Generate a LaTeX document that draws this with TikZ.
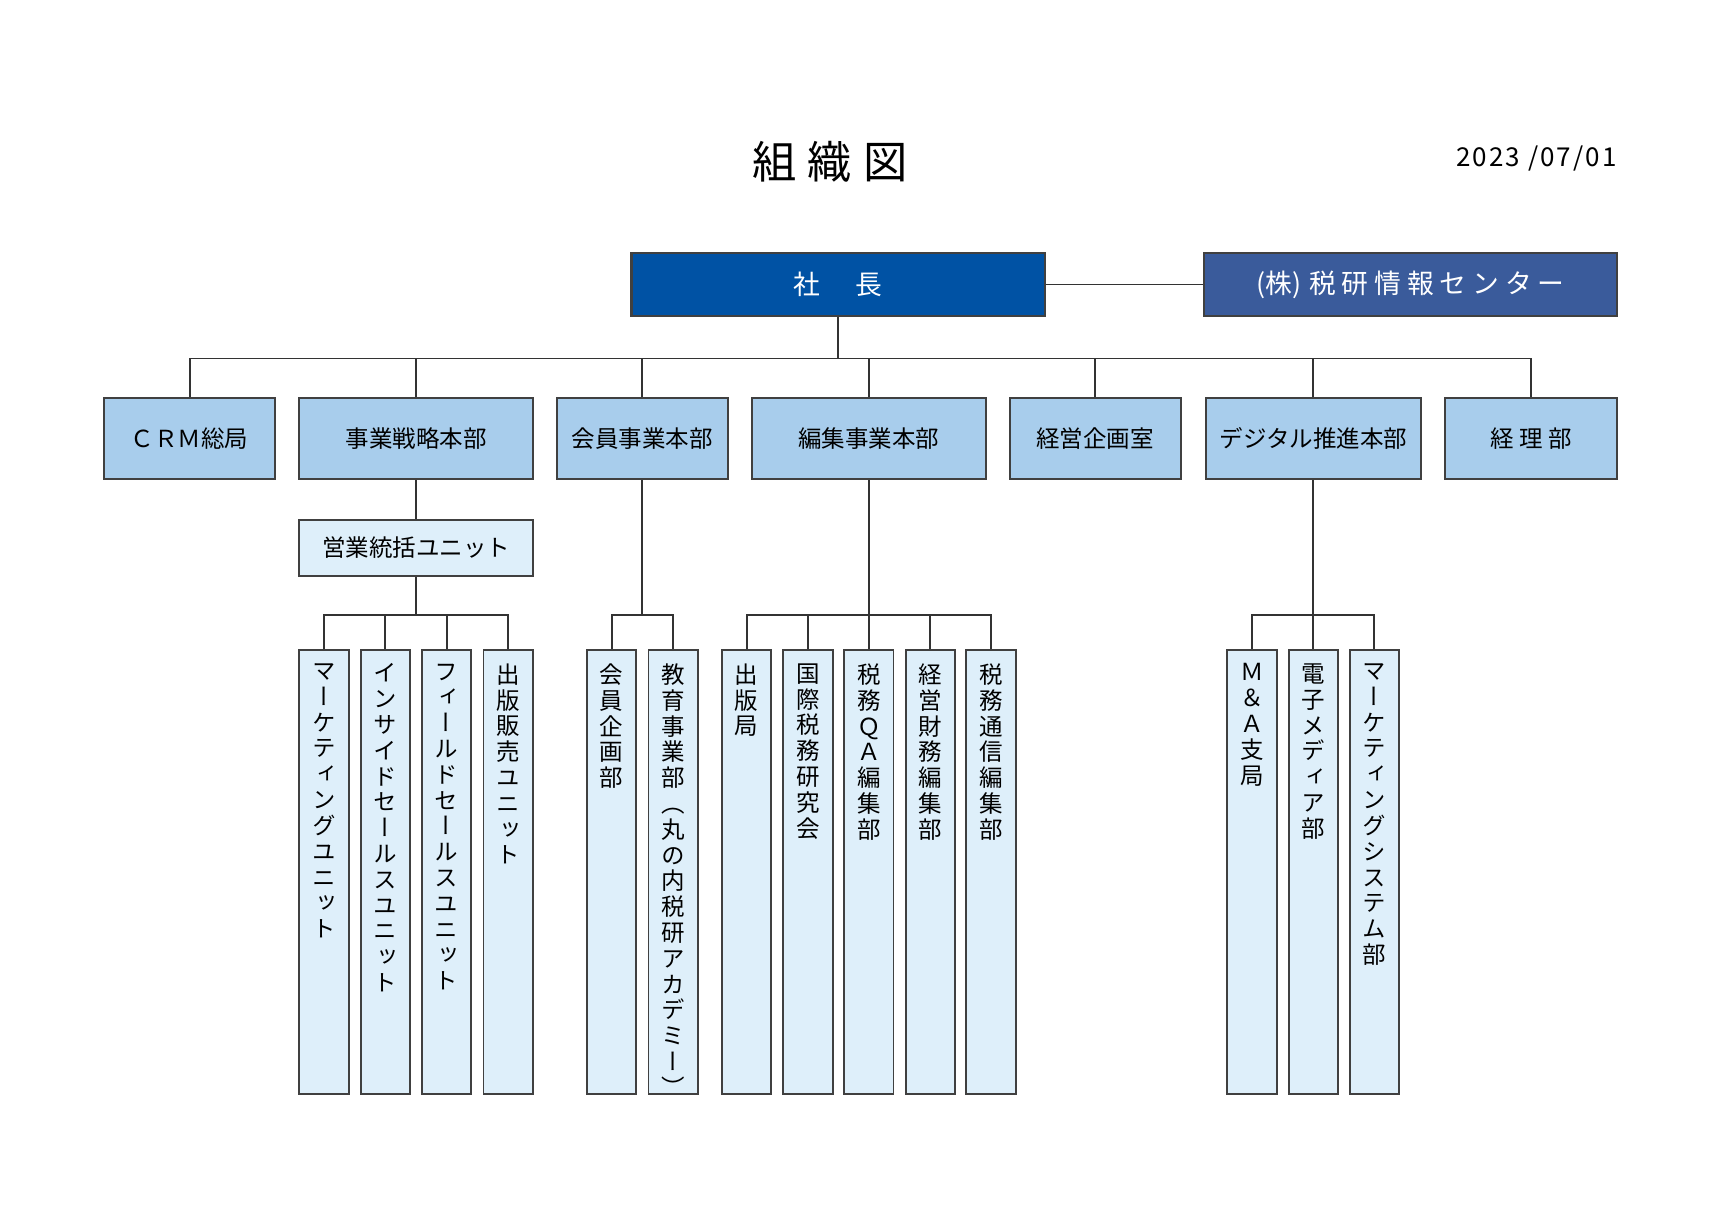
\documentclass[tikz,border=0pt]{standalone}
\usepackage{fontspec}
\setmainfont{Noto Sans CJK JP}
\newfontfamily\vfont[RawFeature=+vert]{Noto Sans CJK JP}
\newfontfamily\wide[LetterSpace=22]{Noto Sans CJK JP}
\newfontfamily\datefont[LetterSpace=8]{Noto Sans CJK JP}

\definecolor{ceoblue}{RGB}{0,82,164}
\definecolor{subblue}{RGB}{58,91,155}
\definecolor{deptblue}{RGB}{168,205,236}
\definecolor{unitblue}{RGB}{222,239,250}
\definecolor{boxline}{RGB}{64,64,64}
\definecolor{linegray}{RGB}{51,51,51}

% one character per line, for the tall boxes
\newcommand\coltext[1]{\vbox to 8.1cm{\vfont\fontsize{12.2pt}{13.4pt}\selectfont
  \baselineskip=13.4pt\lineskiplimit=-100pt\lineskip=0pt
  \vskip0.25cm\coltextA#1\relax\vfill}}
\def\coltextA#1{\ifx\relax#1\else\hbox to 1em{\hss#1\hss}\expandafter\coltextA\fi}

\tikzset{
  headbox/.style={draw=boxline, line width=1.2pt, text=white, inner sep=0pt,
    minimum width=7.54cm, minimum height=1.14cm, font=\fontsize{13.9pt}{16pt}\selectfont},
  deptbox/.style={draw=boxline, line width=1pt, fill=deptblue, inner sep=0pt,
    minimum width=3.12cm, minimum height=1.48cm, font=\fontsize{12.2pt}{14pt}\selectfont},
  colbox/.style={draw=boxline, line width=1pt, fill=unitblue, inner sep=0pt,
    anchor=north, minimum width=0.9cm},
  link/.style={draw=linegray, line width=1pt}
}

\begin{document}
\begin{tikzpicture}[x=0.02cm, y=-0.02cm]
\useasboundingbox (0,0) rectangle (1568,1119);

\node (title) at (757,148) {\fontsize{23pt}{26pt}\selectfont 組\hspace{0.25em}織\hspace{0.25em}図};
\node[anchor=base east, inner sep=0pt] (date) at (1475,152) {\datefont\fontsize{13.5pt}{16pt}\selectfont 2023 /07/01};

\node[headbox, fill=ceoblue] (ceo) at (764.5,259.5) {社\hspace{1.3em}長};
\node[headbox, fill=subblue] (center) at (1286.5,259.5) {(株)\hspace{0.3em}{\wide 税研情報センター}};

% departments
\node[deptbox] (crm) at (173,400) {ＣＲＭ総局};
\node[deptbox, minimum width=4.26cm] (senryaku) at (379.5,400) {事業戦略本部};
\node[deptbox] (kaiin) at (586,400) {会員事業本部};
\node[deptbox, minimum width=4.26cm] (henshu) at (792.5,400) {編集事業本部};
\node[deptbox] (kikaku) at (999,400) {経営企画室};
\node[deptbox, minimum width=3.92cm] (digital) at (1198,400) {デジタル推進本部};
\node[deptbox, minimum width=3.14cm] (keiri) at (1396.5,400) {経 理 部};

\node[deptbox, fill=unitblue, minimum width=4.26cm, minimum height=1.02cm] (eigyo) at (379.5,499.5) {営業統括ユニット};

% units
\node[colbox] (mkt) at (295.5,592) {\coltext{マーケティングユニット}};
\node[colbox] (inside) at (351.5,592) {\coltext{インサイドセールスユニット}};
\node[colbox] (field) at (407.5,592) {\coltext{フィールドセールスユニット}};
\node[colbox] (hanbai) at (463.5,592) {\coltext{出版販売ユニット}};
\node[colbox] (kikakubu) at (558,592) {\coltext{会員企画部}};
\node[colbox] (kyoiku) at (614,592) {\coltext{教育事業部（丸の内税研アカデミー）}};
\node[colbox] (shuppan) at (681,592) {\coltext{出版局}};
\node[colbox] (kokusai) at (737,592) {\coltext{国際税務研究会}};
\node[colbox] (qa) at (792.5,592) {\coltext{税務ＱＡ編集部}};
\node[colbox] (zaimu) at (848.5,592) {\coltext{経営財務編集部}};
\node[colbox] (tsushin) at (904,592) {\coltext{税務通信編集部}};
\node[colbox] (ma) at (1142,592) {\coltext{Ｍ＆Ａ支局}};
\node[colbox] (denshi) at (1198,592) {\coltext{電子メディア部}};
\node[colbox] (msys) at (1253.5,592) {\coltext{マーケティングシステム部}};

\coordinate (bus) at (764.5,327);
\coordinate (sbus) at (379.5,561);
\coordinate (kbus) at (586,561);
\coordinate (hbus) at (792.5,561);
\coordinate (dbus) at (1198,561);

\draw[link] (ceo) -- (center);
\draw[link] (ceo) -- (bus);
\draw[link] (crm.north) |- (bus) -| (keiri.north);
\draw[link] (senryaku.north) -- (senryaku.north |- bus);
\draw[link] (kaiin.north) -- (kaiin.north |- bus);
\draw[link] (henshu.north) -- (henshu.north |- bus);
\draw[link] (kikaku.north) -- (kikaku.north |- bus);
\draw[link] (digital.north) -- (digital.north |- bus);

\draw[link] (senryaku) -- (eigyo);
\draw[link] (eigyo) -- (sbus);
\draw[link] (mkt.north) |- (sbus) -| (hanbai.north);
\draw[link] (inside.north) -- (inside.north |- sbus);
\draw[link] (field.north) -- (field.north |- sbus);

\draw[link] (kaiin) -- (kbus);
\draw[link] (kikakubu.north) |- (kbus) -| (kyoiku.north);

\draw[link] (henshu) -- (qa);
\draw[link] (shuppan.north) |- (hbus) -| (tsushin.north);
\draw[link] (kokusai.north) -- (kokusai.north |- hbus);
\draw[link] (zaimu.north) -- (zaimu.north |- hbus);

\draw[link] (digital) -- (denshi);
\draw[link] (ma.north) |- (dbus) -| (msys.north);
\end{tikzpicture}
\end{document}
